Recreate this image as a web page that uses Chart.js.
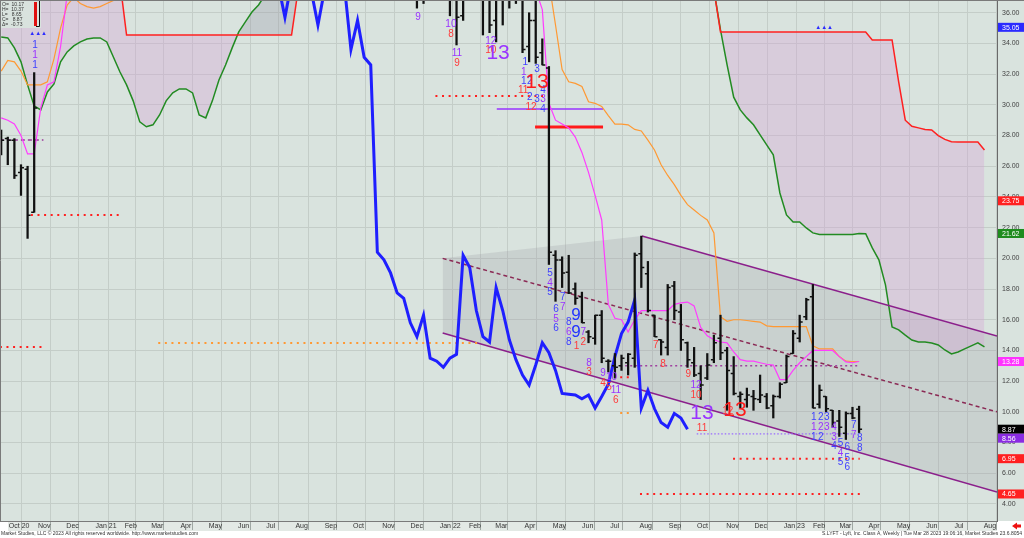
<!DOCTYPE html>
<html>
<head>
<meta charset="utf-8">
<script src="https://cdn.jsdelivr.net/npm/chart.js@4.4.1/dist/chart.umd.min.js"></script>
<style>
html, body { margin: 0; padding: 0; background: #fff; }
#wrap { width: 1024px; height: 538px; }
</style>
</head>
<body>
<div id="wrap"><canvas id="weeklyChart" width="1024" height="538"></canvas></div>
<script>
// week 0 = Fri 25 Sep 2020, one step per weekly bar
var baseDay = Date.UTC(2020, 8, 25);

var barWeeks = [0, 1, 2, 3, 4, 5,
    63, 64, 65, 66, 67, 68, 69, 70, 71, 72, 73, 74, 75, 76, 77, 78, 79, 80, 81, 82,
    83, 84, 85, 86, 87, 88, 89, 90, 91, 92, 93, 94, 95, 96, 97, 98, 99, 100, 101, 102,
    103, 104, 105, 106, 107, 108, 109, 110, 111, 112, 113, 114, 115, 116, 117, 118, 119, 120,
    121, 122, 123, 124, 125, 126, 127, 128, 129, 130];
var opens = [27.5, 27.8, 27.7, 25.6, 25.8, 23.0,
    38, 37.8, 38.2, 38.8, 38.5, 38, 37.5, 35.8, 38, 38.6, 37.6, 37, 35.5, 37.3, 37.9, 38.2, 37.6, 33.8, 35.5, 33.4,
    32.4, 20.2, 19.9, 19.1, 18.0, 17.5, 15.2, 14.8, 16.3, 13.3, 13.0, 13.0, 13.2, 13.5, 20.3, 19.0, 16.3, 14.7, 14.2, 18.2,
    16.5, 14.5, 13.2, 12.5, 12.2, 13.4, 14.8, 14.0, 12.5, 11.0, 10.8, 11.0, 10.8, 11.0, 10.4, 11.0, 11.9, 13.8,
    14.8, 16.2, 17.5, 10.5, 11.0, 10.1, 9.4, 8.6, 9.9, 10.17];
var highs = [28.36, 27.9, 27.8, 26.1, 26.0, 32.1,
    39, 38.8, 39.5, 40, 39.5, 38.6, 38, 38.5, 39.2, 39, 38.3, 37.8, 38, 38.2, 38.8, 38.9, 38.0, 36.0, 37.0, 34.3,
    32.5, 20.5, 20.1, 20.2, 18.4, 17.8, 15.3, 16.3, 16.6, 13.4, 13.8, 13.7, 13.8, 20.35, 21.45, 19.8, 16.3, 14.7, 18.3, 18.5,
    17.0, 14.55, 14.2, 13.0, 13.8, 15.0, 16.3, 14.2, 13.6, 11.3, 11.55, 11.4, 12.4, 11.2, 11.1, 11.9, 13.7, 15.3,
    16.3, 17.4, 18.3, 11.75, 11.0, 10.1, 10.1, 10.0, 10.3, 10.37];
var lows = [26.74, 26.1, 25.2, 24.1, 21.3, 23.0,
    36.3, 36.6, 37.2, 37.5, 37.2, 35.8, 33.9, 35.5, 37.2, 37.0, 34.55, 34.7, 34.1, 35.2, 36.3, 36.6, 33.4, 32.8, 32.7, 32.6,
    19.6, 17.2, 18.1, 17.7, 17.0, 15.8, 14.5, 14.4, 13.2, 12.6, 12.2, 12.7, 12.4, 12.9, 18.1, 16.5, 14.9, 13.7, 13.7, 16.0,
    14.0, 12.9, 12.3, 10.8, 12.1, 13.2, 13.4, 10.1, 11.1, 10.25, 10.3, 10.1, 10.6, 10.2, 9.6, 10.9, 11.9, 13.8,
    14.55, 16.0, 10.25, 10.25, 10.0, 9.0, 8.4, 8.2, 9.55, 8.65];
var closes = [27.7, 27.7, 25.4, 25.9, 22.8, 29.8,
    37.5, 38.2, 38.8, 38.5, 38.0, 37.8, 35.7, 38.0, 38.6, 37.6, 37.4, 35.2, 37.5, 37.9, 38.2, 37.8, 33.6, 35.5, 33.1, 32.6,
    20.4, 19.9, 19.05, 17.75, 17.4, 15.8, 14.9, 16.3, 13.5, 13.3, 12.9, 13.5, 13.75, 20.2, 19.4, 16.6, 14.9, 14.55, 18.1, 16.6,
    14.7, 13.4, 12.4, 11.75, 13.05, 14.5, 13.85, 12.7, 11.2, 11.15, 11.1, 10.85, 11.1, 10.25, 11.0, 11.8, 13.6, 15.1,
    15.85, 17.3, 10.25, 11.4, 10.2, 9.3, 9.0, 9.9, 9.6, 8.87];

// ichimoku lines, [week, price]
var tenkan = [[0, 29.15], [1, 29.0], [2, 28.75], [3, 28.0], [4, 26.8], [5, 26.8], [6, 29.8], [7, 31.3], [8, 31.5],
    [9, 33.8], [10, 37.2], [11, null],
    [81, 37.5], [82, 36.2], [83, 30.1], [84, 29.0], [85, 28.75], [86, 28.5], [87, 27.9], [88, 26.9], [89, 25.6],
    [90, 24.1], [91, 22.5], [92, 17.0], [93, 16.1], [94, 16.0], [95, 15.2], [96, 16.0], [97, 16.6], [98, 16.6],
    [99, 16.6], [100, 16.6], [101, 16.6], [102, 17.0], [103, 17.1], [104, 17.15], [105, 16.9], [106, 15.5],
    [107, 14.95], [108, 14.7], [109, 14.55], [110, 14.5], [111, 13.9], [112, 13.4], [113, 13.3], [114, 13.3],
    [115, 13.2], [116, 13.1], [117, 13.05], [118, 12.1], [119, 12.1], [120, 12.7], [121, 13.2], [122, 13.6],
    [123, 14.0], [124, 14.0], [125, 14.0], [126, 14.0], [127, 13.6], [128, 13.25], [129, 13.2], [130, 13.28]];
var kijun = [[0, 32.2], [1, 32.9], [2, 32.8], [3, 32.2], [4, 31.3], [5, 31.3], [6, 31.3], [7, 31.5], [8, 33.0],
    [9, 35.0], [10, 36.5], [11, 37.0], [12, 36.6], [13, 36.4], [14, 36.3], [15, 36.4], [16, 36.6], [17, 36.8],
    [18, 37.5], [19, null],
    [82, 38.5], [83, 38.0], [84, 35.2], [85, 32.3], [86, 31.5], [87, 31.4], [88, 31.2], [89, 30.2], [90, 30.1],
    [91, 29.9], [92, 29.3], [93, 28.75], [94, 28.75], [95, 28.7], [96, 28.4], [97, 28.3], [98, 27.7], [99, 27.06],
    [100, 26.1], [101, 25.4], [102, 24.8], [103, 24.1], [104, 23.5], [105, 23.15], [106, 22.8], [107, 22.5],
    [108, 21.65], [109, 16.2], [110, 15.9], [111, 16.0], [112, 16.0], [113, 15.95], [114, 15.9], [115, 15.85],
    [116, 15.6], [117, 15.55], [118, 15.55], [119, 15.55], [120, 15.55], [121, 15.55], [122, 15.55], [123, 14.3],
    [124, 14.1], [125, 14.1], [126, 14.1], [127, 13.6], [128, 13.3], [129, 13.28], [130, 13.28]];
var senkouA = [[0, 34.42], [1, 34.36], [2, 33.71], [3, 32.8], [4, 31.3], [5, 29.93], [6, 29.67], [7, 30.84],
    [8, 31.36], [9, 32.8], [10, 33.45], [11, 33.84], [12, 34.1], [13, 34.29], [14, 34.36], [15, 34.36], [16, 34.1],
    [17, 33.12], [18, 32.14], [19, 31.3], [20, 30.26], [21, 28.89], [22, 28.57], [23, 28.7], [24, 29.34],
    [25, 30.26], [26, 30.78], [27, 31.04], [28, 31.04], [29, 30.78], [30, 29.34], [31, 29.15], [32, 30.26],
    [33, 31.62], [34, 32.6], [35, 33.71], [36, 34.75], [37, 35.4], [38, 36.05], [39, 36.51], [40, 37.16],
    [41, 38], [42, 38], [43, 38], [44, 38], [45, 38], [46, null],
    [108, 37.5], [109, 34.88], [110, 32.6], [111, 30.5], [112, 29.67], [113, 29.15], [114, 28.7], [115, 28.04],
    [116, 27.39], [117, 26.74], [118, 24.26], [119, 22.83], [120, 22.37], [121, 22.37], [122, 21.98],
    [123, 21.66], [124, 21.55], [125, 21.55], [126, 21.55], [127, 21.55], [128, 21.55], [129, 21.55],
    [130, 21.62], [131, 21.6], [132, 20.68], [133, 19.9], [134, 18.27], [135, 15.53], [136, 15.34], [137, 15.0],
    [138, 14.68], [139, 14.55], [140, 14.55], [141, 14.49], [142, 14.36], [143, 14.03], [144, 13.77],
    [145, 13.9], [146, 14.1], [147, 14.3], [148, 14.49], [149, 14.23]];
var senkouB = [[0, 38.5], [1, 38.5], [2, 38.5], [3, 38.5], [4, 38.5], [5, 38.5], [6, 38.5], [7, 38.5], [8, 38.5],
    [9, 38.5], [10, 38.5], [11, 38.5], [12, 38.5], [13, 38.5], [14, 38.5], [15, 38.5], [16, 38.5], [17, 38.5],
    [18, 38], [19, 34.55], [20, 34.55], [21, 34.55], [22, 34.55], [23, 34.55], [24, 34.55], [25, 34.55],
    [26, 34.55], [27, 34.55], [28, 34.55], [29, 34.55], [30, 34.55], [31, 34.55], [32, 34.55], [33, 34.55],
    [34, 34.55], [35, 34.55], [36, 34.55], [37, 34.55], [38, 34.55], [39, 34.55], [40, 34.55], [41, 34.55],
    [42, 34.55], [43, 34.55], [44, 34.55], [45, 37.5], [46, null],
    [108, 37.5], [109, 34.75], [110, 34.75], [111, 34.75], [112, 34.75], [113, 34.75], [114, 34.75], [115, 34.75],
    [116, 34.75], [117, 34.75], [118, 34.75], [119, 34.75], [120, 34.75], [121, 34.75], [122, 34.75],
    [123, 34.75], [124, 34.75], [125, 34.75], [126, 34.75], [127, 34.75], [128, 34.75], [129, 34.75],
    [130, 34.75], [131, 34.75], [132, 34.23], [133, 34.23], [134, 34.23], [135, 34.23], [136, 31.5], [137, 29.0],
    [138, 28.6], [139, 28.5], [140, 28.4], [141, 28.36], [142, 28.0], [143, 27.75], [144, 27.6], [145, 27.58],
    [146, 27.58], [147, 27.58], [148, 27.58], [149, 27.06]];

// regression channel end points
var channelUpper = [[97.1, 21.45], [150.9, 14.94]];
var channelLower = [[66.9, 15.14], [150.9, 4.78]];
var channelMid = [[66.9, 20.0], [150.9, 10.0]];

// horizontal levels [fromWeek, toWeek, price]
var redDotLevels = [[4.5, 18.0, 22.83], [-0.2, 6.2, 14.23], [65.8, 82.4, 30.58], [110.9, 130.1, 6.95],
    [96.8, 130.4, 4.65], [93.8, 95.2, 12.25]];
var orangeDotLevels = [[23.8, 72.3, 14.49], [93.8, 95.3, 9.93]];
var plumDotLevels = [[93.8, 130, 13.0]];
var violetDotLevels = [[105.4, 129.6, 8.56]];
var violetSolidLevels = [[75.1, 91.2, 29.73]];
var redSolidLevels = [[80.9, 91.2, 28.56]];
var plumDashLevels = [[-0.2, 6.4, 27.71]];

// setup / countdown numbers [week, price, text]
var tdBlue = [[5.12, 33.9, '1'], [5.12, 32.6, '1'],
    [79.4, 32.8, '1'], [81.2, 32.34, '3'], [79.2, 31.55, '1'], [80.1, 31.55, '2'], [82.1, 30.97, '4'],
    [80.1, 30.51, '2'], [81.2, 30.38, '3'], [82.1, 29.73, '4'],
    [83.15, 19.05, '5'], [83.15, 17.81, '5'], [85.1, 17.49, '7'], [84.06, 16.7, '6'], [86.0, 15.86, '8'],
    [84.06, 15.47, '6'], [86.0, 14.55, '8'],
    [123.15, 9.67, '1'], [124.2, 9.67, '2'], [125.1, 9.67, '3'], [123.15, 8.36, '1'], [124.2, 8.36, '2'],
    [126.2, 7.78, '4'], [127.2, 7.97, '5'], [128.2, 7.71, '6'], [128.2, 7.0, '5'], [127.2, 6.74, '5'],
    [128.2, 6.41, '6'], [129.2, 9.15, '7'], [130.1, 8.3, '8'], [130.1, 7.65, '8']];
var tdPurple = [[5.12, 33.25, '1'],
    [63.15, 35.73, '9'], [68.15, 35.27, '10'], [69.06, 33.38, '11'], [74.2, 34.16, '12'], [79.2, 32.14, '1'],
    [82.1, 30.38, '3'],
    [83.15, 18.4, '4'], [85.1, 16.83, '7'], [84.06, 16.05, '5'], [86.0, 15.21, '6'], [88.2, 15.21, '7'],
    [89.06, 13.19, '8'], [91.2, 12.53, '9'], [92.5, 12.27, '10'], [93.15, 11.43, '11'], [105.3, 11.75, '12'],
    [123.15, 9.02, '1'], [124.2, 9.02, '2'], [125.1, 9.02, '3'], [126.2, 9.02, '4'], [126.2, 8.36, '3'],
    [127.2, 7.32, '4'], [129.2, 8.5, '7']];
var tdRed = [[68.15, 34.62, '8'], [69.06, 32.73, '9'], [74.2, 33.58, '10'], [79.1, 30.97, '11'], [80.3, 29.86, '12'],
    [87.2, 14.29, '1'], [88.2, 14.55, '2'], [89.06, 12.6, '3'], [91.2, 11.88, '4'], [92.1, 11.62, '5'],
    [93.15, 10.78, '6'], [99.2, 14.36, '7'], [100.3, 13.12, '8'], [104.1, 12.47, '9'], [105.3, 11.1, '10'],
    [106.2, 8.95, '11'], [110.1, 10.06, '12']];
var tdBigPurple = [[75.3, 33.38, '13'], [106.2, 9.93, '13']];
var tdBigRed = [[81.2, 31.49, '13'], [111.2, 10.12, '13']];
var tdBigBlue = [[87.1, 16.31, '9'], [87.1, 15.21, '9']];
var triangleMarks = [[5.6, 34.68], [124.7, 35.08]];

var priceTicks = [4, 6, 8, 10, 12, 14, 16, 18, 20, 22, 24, 26, 28, 30, 32, 34, 36];
var markValues = [35.05, 23.75, 21.62, 13.28, 8.87, 8.56, 6.95, 4.65];
var markColors = ['#2b2bff', '#ff2020', '#1e8c1e', '#ff33ff', '#000000', '#8a2be2', '#ff2020', '#ff2020'];

var monthNames = ['Jan', 'Feb', 'Mar', 'Apr', 'May', 'Jun', 'Jul', 'Aug', 'Sep', 'Oct', 'Nov', 'Dec'];
var monthTicks = [];
for (var k = 0; k < 35; k++) {
    var yr = 2020 + Math.floor((9 + k) / 12), mo = (9 + k) % 12;
    monthTicks.push({
        week: (Date.UTC(yr, mo, 1) - baseDay) / (7 * 864e5),
        label: monthNames[mo] + ((mo === 0 || k === 0) ? ' ' + String(yr).slice(2) : '')
    });
}

function toPoints(pairs) {
    return pairs.map(function (p) { return {x: p[0], y: p[1]}; });
}
function lineAt(seg, w) {
    return seg[0][1] + (w - seg[0][0]) / (seg[1][0] - seg[0][0]) * (seg[1][1] - seg[0][1]);
}

var lagging = [];
barWeeks.forEach(function (w, i) {
    if (i > 0 && w - barWeeks[i - 1] > 1) lagging.push({x: w - 26.5, y: null});
    lagging.push({x: w - 26, y: closes[i]});
});

function line(pairs, color, width, order, extra) {
    var ds = {type: 'line', data: toPoints(pairs), borderColor: color, borderWidth: width,
        pointRadius: 0, tension: 0, fill: false, order: order};
    for (var key in extra) ds[key] = extra[key];
    return ds;
}
function levels(list, color, width, dash, order) {
    return list.map(function (l) {
        return line([[l[0], l[2]], [l[1], l[2]]], color, width, order, {borderDash: dash, borderCapStyle: 'butt'});
    });
}

var shadeTop = [channelMid[0], channelUpper[0], channelUpper[1]];
var shadeBottom = [channelLower[0], [channelUpper[0][0], lineAt(channelLower, channelUpper[0][0])], channelLower[1]];

var datasets = [
    line(senkouB, '#ff2020', 1.5, 8),
    line(senkouA, '#228b22', 1.5, 9, {fill: {target: 0, above: 'rgba(150,150,165,0.30)', below: 'rgba(215,160,215,0.34)'}}),
    line(shadeBottom, 'rgba(0,0,0,0)', 0, 12),
    line(shadeTop, 'rgba(0,0,0,0)', 0, 11, {fill: {target: 2, above: 'rgba(155,155,165,0.25)', below: 'rgba(155,155,165,0.25)'}}),
    line(channelUpper, '#8b1f8b', 1.5, 7),
    line(channelLower, '#8b1f8b', 1.5, 7),
    line(channelMid, '#8b2a55', 1.5, 7, {borderDash: [4, 3]}),
    line(kijun, '#ff9933', 1.2, 5),
    line(tenkan, '#ff3cff', 1.2, 4),
    {type: 'line', data: lagging, borderColor: '#1f1fff', borderWidth: 3, pointRadius: 0, tension: 0, fill: false, order: 3}
];
datasets = datasets.concat(
    levels(redDotLevels, '#ff2020', 2, [2, 4.6], 6),
    levels(orangeDotLevels, '#ff9933', 2, [2, 4.6], 6),
    levels(plumDotLevels, '#a040a0', 1.5, [2, 3], 6),
    levels(violetDotLevels, '#9a6bff', 1.2, [1.5, 2], 6),
    levels(violetSolidLevels, '#9933ff', 1.5, [], 6),
    levels(redSolidLevels, '#ff1a1a', 3, [], 6),
    levels(plumDashLevels, '#9a3a9a', 1.5, [4, 3], 6)
);
datasets.push({
    type: 'bar',
    data: barWeeks.map(function (w, i) { return {x: w, y: [lows[i], highs[i]]}; }),
    backgroundColor: '#111111',
    barThickness: 1.6,
    grouped: false,
    clip: 0,
    order: 1
});

var frame = {
    id: 'frame',
    beforeDraw: function (chart) {
        var ctx = chart.ctx, a = chart.chartArea;
        ctx.save();
        ctx.fillStyle = '#ffffff';
        ctx.fillRect(0, 0, chart.width, chart.height);
        ctx.fillStyle = '#d9e3de';
        ctx.fillRect(0, 0, chart.width, a.bottom);
        ctx.fillStyle = '#e3e9e5';
        ctx.fillRect(0, a.bottom, a.right, 10);
        ctx.restore();
    },
    afterDraw: function (chart) {
        var ctx = chart.ctx, a = chart.chartArea, y = chart.scales.y;
        ctx.save();
        ctx.strokeStyle = '#7a7a7a';
        ctx.lineWidth = 1;
        ctx.beginPath();
        ctx.moveTo(0, 0.5); ctx.lineTo(chart.width, 0.5);
        ctx.moveTo(0.5, 0); ctx.lineTo(0.5, a.bottom);
        ctx.moveTo(0, a.bottom + 0.5); ctx.lineTo(a.right, a.bottom + 0.5);
        ctx.stroke();

        // last value boxes on the price axis
        var boxes = markValues.map(function (v, i) { return {v: v, c: markColors[i], py: y.getPixelForValue(v)}; });
        boxes.sort(function (p, q) { return p.py - q.py; });
        for (var i = 1; i < boxes.length; i++) {
            if (boxes[i].py - boxes[i - 1].py < 9) boxes[i].py = boxes[i - 1].py + 9;
        }
        ctx.font = '7px "Liberation Sans", Arial, sans-serif';
        ctx.textBaseline = 'middle';
        ctx.textAlign = 'left';
        boxes.forEach(function (b) {
            ctx.fillStyle = b.c;
            ctx.fillRect(a.right + 1, b.py - 4.5, chart.width - a.right - 1, 9);
            ctx.fillStyle = '#ffffff';
            ctx.fillText(b.v.toFixed(2), a.right + 5, b.py + 0.5);
        });

        // last bar readout, top left
        var n = barWeeks.length - 1;
        var info = ['O=  ' + opens[n].toFixed(2), 'H=  ' + highs[n].toFixed(2), 'L=   ' + lows[n].toFixed(2),
            'C=   ' + closes[n].toFixed(2), '\u0394=  ' + (closes[n] - closes[n - 1]).toFixed(2)];
        ctx.fillStyle = '#d9e3de';
        ctx.fillRect(1, 1, 40, 27);
        ctx.fillStyle = '#333';
        ctx.font = '5px "Liberation Sans", Arial, sans-serif';
        ctx.textBaseline = 'top';
        info.forEach(function (t, i) { ctx.fillText(t, 2, 2 + i * 5); });
        ctx.fillStyle = '#e01010';
        ctx.fillRect(34, 2, 3, 24);
        ctx.strokeStyle = '#111';
        ctx.beginPath();
        ctx.moveTo(39.5, 1); ctx.lineTo(39.5, 26.5); ctx.lineTo(36, 26.5);
        ctx.stroke();

        // corner square, footer, arrow
        ctx.fillStyle = '#ffffff';
        ctx.fillRect(0, a.bottom + 1, 8, 9);
        ctx.fillStyle = '#333';
        ctx.font = '5px "Liberation Sans", Arial, sans-serif';
        ctx.textBaseline = 'middle';
        ctx.textAlign = 'left';
        ctx.fillText('Market Studies, LLC \u00a9 2023 All rights reserved worldwide. http://www.marketstudies.com', 1, 534);
        ctx.textAlign = 'right';
        ctx.fillText('S.LYFT - Lyft, Inc. Class A, Weekly | Tue Mar 28 2023 19:06:16, Market Studies 23.6.8054', 1022, 534);
        ctx.fillStyle = '#ee1111';
        ctx.beginPath();
        ctx.moveTo(1012, 526); ctx.lineTo(1017, 522.5); ctx.lineTo(1017, 524.5); ctx.lineTo(1021, 524.5);
        ctx.lineTo(1021, 527.5); ctx.lineTo(1017, 527.5); ctx.lineTo(1017, 529.5);
        ctx.closePath();
        ctx.fill();
        ctx.restore();
    }
};

var marks = {
    id: 'marks',
    afterDatasetsDraw: function (chart) {
        var ctx = chart.ctx, a = chart.chartArea, x = chart.scales.x, y = chart.scales.y;
        ctx.save();
        ctx.beginPath();
        ctx.rect(a.left, a.top, a.right - a.left, a.bottom - a.top);
        ctx.clip();

        // open / close ticks
        ctx.strokeStyle = '#111';
        ctx.lineWidth = 1.5;
        ctx.beginPath();
        barWeeks.forEach(function (w, i) {
            var px = x.getPixelForValue(w), po = y.getPixelForValue(opens[i]), pc = y.getPixelForValue(closes[i]);
            ctx.moveTo(px - 3, po); ctx.lineTo(px, po);
            ctx.moveTo(px, pc); ctx.lineTo(px + 3, pc);
        });
        ctx.stroke();

        ctx.textAlign = 'center';
        ctx.textBaseline = 'middle';
        function put(list, color, size) {
            ctx.fillStyle = color;
            ctx.font = size + 'px "Liberation Sans", Arial, sans-serif';
            list.forEach(function (t) { ctx.fillText(t[2], x.getPixelForValue(t[0]), y.getPixelForValue(t[1])); });
        }
        put(tdBlue, '#4040ff', 10);
        put(tdPurple, '#9933ff', 10);
        put(tdRed, '#ff3a3a', 10);
        put(tdBigPurple, '#9933ff', 21);
        put(tdBigRed, '#ff1a1a', 21);
        put(tdBigBlue, '#2233ff', 17);
        put(triangleMarks.map(function (t) { return [t[0], t[1], '\u25b2\u25b2\u25b2']; }), '#2b2bff', 6);
        ctx.restore();
    }
};

new Chart(document.getElementById('weeklyChart'), {
    type: 'line',
    data: {datasets: datasets},
    options: {
        responsive: false,
        animation: false,
        devicePixelRatio: 1,
        layout: {padding: 0},
        plugins: {legend: {display: false}, tooltip: {enabled: false}},
        scales: {
            x: {
                type: 'linear',
                min: -0.18,
                max: 150.9,
                offset: false,
                afterBuildTicks: function (s) {
                    s.ticks = monthTicks.map(function (t) { return {value: t.week}; });
                },
                afterFit: function (s) {
                    s.height = 17;
                    s.paddingLeft = 0;
                    s.paddingRight = 0;
                },
                ticks: {
                    autoSkip: false,
                    maxRotation: 0,
                    align: 'start',
                    labelOffset: 2,
                    padding: -8,
                    color: '#333',
                    font: {size: 7, family: '"Liberation Sans", Arial, sans-serif'},
                    callback: function (v, i) { return monthTicks[i] ? monthTicks[i].label : ''; }
                },
                grid: {color: '#c4cdc8', tickLength: 9, tickColor: '#a0a8a4'},
                border: {display: false}
            },
            y: {
                position: 'right',
                min: 2.89,
                max: 36.83,
                afterBuildTicks: function (s) {
                    s.ticks = priceTicks.map(function (v) { return {value: v}; });
                },
                afterFit: function (s) {
                    s.width = 27;
                    s.paddingTop = 0;
                    s.paddingBottom = 0;
                },
                ticks: {
                    padding: 5,
                    color: '#444',
                    font: {size: 7, family: '"Liberation Sans", Arial, sans-serif'},
                    callback: function (v) { return Number(v).toFixed(2); }
                },
                grid: {color: '#c4cdc8', drawTicks: false},
                border: {display: true, color: '#6a6a6a'}
            }
        }
    },
    plugins: [frame, marks]
});
</script>
</body>
</html>
